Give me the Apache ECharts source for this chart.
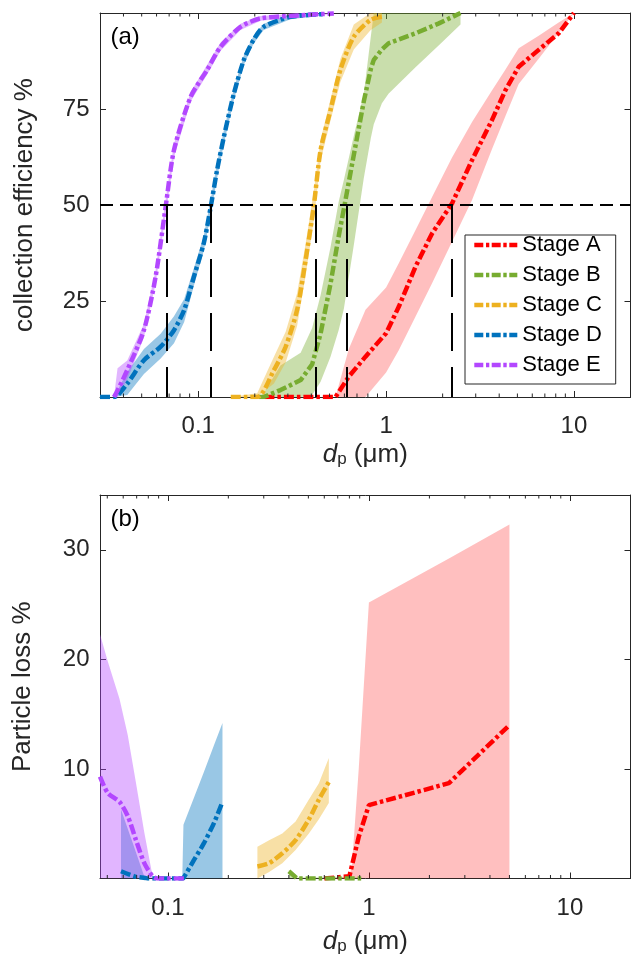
<!DOCTYPE html>
<html>
<head>
<meta charset="utf-8">
<script src="https://cdn.jsdelivr.net/npm/echarts/dist/echarts.min.js"></script>
<style>
  html, body { margin: 0; padding: 0; background: #fff; }
  #chart { width: 632px; height: 957px; }
</style>
</head>
<body>
<div id="chart"></div>
<script>
// ---------------- DATA ----------------
const stageNames = ['Stage A', 'Stage B', 'Stage C', 'Stage D', 'Stage E'];

// Panel (a): collection efficiency (%) vs dp (um)
const effA_x  = [0.225, 0.538, 0.633, 0.777, 1.0, 1.168, 1.433, 1.757, 2.244, 2.868, 3.66, 4.32, 5.08, 6.49, 8.29, 10];
const effA_y  = [0, 0, 5.3, 10.5, 16.6, 23.5, 33.9, 42.6, 50.4, 61.7, 72.1, 79.9, 86, 90.4, 94.7, 100];
const effA_hi = [0, 0, 12.5, 22.7, 28.5, 34.8, 43.4, 52.1, 62.4, 71.6, 79.8, 85.3, 90.8, 94.1, 97.5, 100];
const effA_lo = [0, 0, 0, 0, 6.4, 12.2, 20.9, 29.6, 40.4, 51.3, 64.5, 73.2, 81.5, 88.1, 94.8, 100];

const effB_x  = [0.21, 0.223, 0.274, 0.351, 0.404, 0.448, 0.506, 0.56, 0.596, 0.673, 0.761, 0.83, 0.86, 0.95, 1.03, 1.43, 1.91, 2.49];
const effB_y  = [0, 0, 1.8, 4.4, 8.5, 16.5, 29.5, 42, 49, 63, 77, 85.5, 87.8, 90.5, 92.1, 94.7, 97.3, 100];
const effB_hi = [0, 1, 8.2, 11.5, 18, 26.5, 39, 51, 56.5, 68, 79, 94, 100, 100, 100, 100, 100, 100];
const effB_lo = [0, 0, 0, 0, 0.5, 4, 10.5, 17.5, 23, 39.5, 57, 67.5, 71, 76.5, 79, 85.8, 91.6, 97];

const effC_x  = [0.149, 0.206, 0.253, 0.292, 0.336, 0.373, 0.412, 0.448, 0.506, 0.571, 0.673, 0.826, 0.95];
const effC_y  = [0, 0, 7, 13.1, 22.7, 35.7, 49.6, 64.3, 74.7, 85.2, 93.8, 98.2, 99];
const effC_hi = [0, 1, 10.5, 17, 27, 40, 53.5, 67, 77.5, 88, 97, 100, 100];
const effC_lo = [0, 0, 3.5, 9, 18.5, 31.5, 46, 61.5, 72, 82, 90.5, 95.5, 97.5];

const effD_x  = [0.03, 0.0356, 0.0419, 0.0514, 0.0631, 0.0743, 0.0842, 0.0948, 0.107, 0.1166, 0.126, 0.137, 0.155, 0.175, 0.197, 0.223, 0.31, 0.466];
const effD_y  = [0, 0, 3.5, 9.6, 13.1, 17.4, 22.7, 31.3, 40, 49.6, 59.1, 67.8, 79.1, 87.8, 93, 96.4, 99, 99.7];
const effD_hi = [0, 0, 6.5, 12.5, 16.5, 21, 25.5, 33.5, 42, 51.5, 61, 69.5, 80.5, 89, 94, 97.2, 99.6, 100];
const effD_lo = [0, 0, 0.5, 6, 10, 14, 19.5, 29, 38, 47.5, 57, 66, 77.5, 86.5, 92, 95.6, 98.4, 99.4];

const effE_x  = [0.0356, 0.0372, 0.0419, 0.0514, 0.0593, 0.0671, 0.0743, 0.0912, 0.1116, 0.1315, 0.168, 0.215, 0.38, 0.527];
const effE_y  = [0, 1.7, 7, 17.4, 31.3, 49.6, 64.3, 78.2, 85.2, 91.2, 96.4, 98.6, 99.5, 99.9];
const effE_hi = [0, 7.5, 9.5, 19, 33, 51.5, 66, 79.5, 86.5, 92.3, 97.2, 99.2, 100, 100];
const effE_lo = [0, 0, 4.5, 15.5, 29.5, 47.5, 62.5, 77, 84, 90.2, 95.6, 98, 99, 99.8];

// d50 cut sizes (um) for stages A..E
const d50 = [2.244, 0.616, 0.421, 0.1173, 0.0679];
const d50Level = 50;

// Panel (b): particle loss (%) vs dp (um)
const lossA_x  = [0.6, 0.8, 0.824, 0.89, 1.0, 2.5, 5.0];
const lossA_y  = [0, 0.2, 1.2, 3.8, 6.7, 8.7, 14.0];
const lossA_hi = [0, 0.2, 1.2, 10, 25.2, 29.2, 32.3];
const lossA_lo = [0, 0, 0, 0, 0, 0, 0];

const lossB_x  = [0.40, 0.44, 0.6, 0.92];
const lossB_y  = [0.66, 0, 0, 0];
const lossB_hi = [0.8, 0.1, 0.1, 0.1];
const lossB_lo = [0, 0, 0, 0];

const lossC_x  = [0.279, 0.319, 0.371, 0.432, 0.503, 0.564, 0.632];
const lossC_y  = [1.1, 1.4, 2.3, 3.5, 5.4, 7.2, 8.8];
const lossC_hi = [2.9, 3.5, 4.1, 5.2, 7.2, 8.7, 11.0];
const lossC_lo = [0, 0.6, 1.4, 2.6, 4.1, 5.4, 6.9];

const lossD_x  = [0.0585, 0.0682, 0.077, 0.0793, 0.1, 0.118, 0.1196, 0.135, 0.151, 0.170, 0.187];
const lossD_y  = [0.66, 0.2, 0.05, 0, 0, 0, 0.05, 1.7, 3.2, 5.1, 7.0];
const lossD_hi = [6.3, 2.8, 0, 0, 0, 0, 4.9, 7.4, 9.7, 12.2, 14.2];
const lossD_lo = [0, 0, 0, 0, 0, 0, 0, 0, 0, 0, 0];

const lossE_x  = [0.046, 0.0503, 0.0575, 0.0632, 0.0695, 0.0764, 0.084, 0.089, 0.123];
const lossE_y  = [9.3, 7.8, 7.0, 5.7, 3.5, 1.4, 0.2, 0, 0];
const lossE_hi = [22.3, 19.8, 16.4, 13.1, 8.7, 4.2, 0.2, 0, 0];
const lossE_lo = [0, 0, 0, 0, 0, 0, 0, 0, 0];

// Axis ticks / labels
const xTickVals = [0.1, 1, 10];
const xTickLabels = ['0.1', '1', '10'];
const minorTicksTop = [0.04, 0.05, 0.06, 0.07, 0.08, 0.09, 0.2, 0.3, 0.4, 0.5, 0.6, 0.7, 0.8, 0.9, 2, 3, 4, 5, 6, 7, 8, 9];
const minorTicksBottom = [0.05, 0.06, 0.07, 0.08, 0.09, 0.2, 0.3, 0.4, 0.5, 0.6, 0.7, 0.8, 0.9, 2, 3, 4, 5, 6, 7, 8, 9];
const yTopLabels = [25, 50, 75];
const yBottomLabels = [10, 20, 30];

// ---------------- STYLE ----------------
const FONT = "'Liberation Sans', Arial, Helvetica, sans-serif";
const AX = '#262626';
const lineColors = ['#FF0000', '#77AC30', '#EDB120', '#0072BD', '#B347FF'];
const bandColors = ['rgba(255,0,0,0.25)', 'rgba(119,172,48,0.4)', 'rgba(237,177,32,0.4)',
                    'rgba(0,114,189,0.4)', 'rgba(179,71,255,0.4)'];
const DASHDOT = [10, 3, 3.5, 3];
// dash-dot legend glyph (43 x 4.5 box)
const LEGEND_ICON = 'path://M0,0H9V4.5H0Z M11.7,0H15V4.5H11.7Z M17.4,0H26.4V4.5H17.4Z M29,0H32.4V4.5H29Z M35,0H43V4.5H35Z';

function zip(xs, ys) { return xs.map((x, i) => [x, ys[i]]); }

function bandSeries(xs, lo, hi, color, xi, yi) {
  return {
    type: 'custom', xAxisIndex: xi, yAxisIndex: yi, silent: true, clip: true, z: 2,
    data: [[xs[0], lo[0]]],
    encode: { x: 0, y: 1 },
    renderItem: function (params, api) {
      const pts = [];
      for (let i = 0; i < xs.length; i++) pts.push(api.coord([xs[i], hi[i]]));
      for (let i = xs.length - 1; i >= 0; i--) pts.push(api.coord([xs[i], lo[i]]));
      return { type: 'polygon', shape: { points: pts }, style: { fill: color, stroke: null } };
    }
  };
}

function lineSeries(name, xs, ys, color, xi, yi, smooth) {
  return {
    name: name, type: 'line', xAxisIndex: xi, yAxisIndex: yi, z: 2,
    data: zip(xs, ys), symbol: 'none', showSymbol: false, smooth: smooth || false,
    itemStyle: { color: color },
    lineStyle: { color: color, width: 4.5, type: DASHDOT, cap: 'butt' }
  };
}

function minorTickSeries(vals, xi, yi) {
  return {
    type: 'custom', xAxisIndex: xi, yAxisIndex: yi, silent: true, z: 6,
    data: vals.map(v => [v, 0]),
    encode: { x: 0, y: 1 },
    renderItem: function (params, api) {
      const x = api.coord([api.value(0), api.value(1)])[0];
      const cs = params.coordSys;
      const yb = cs.y + cs.height, yt = cs.y;
      return {
        type: 'group', children: [
          { type: 'line', shape: { x1: x, y1: yb, x2: x, y2: yb - 3.5 }, style: { stroke: AX, lineWidth: 1 } },
          { type: 'line', shape: { x1: x, y1: yt, x2: x, y2: yt + 3.5 }, style: { stroke: AX, lineWidth: 1 } }
        ]
      };
    }
  };
}

function xLabelFmt(v) {
  const i = xTickVals.findIndex(t => Math.abs(Math.log10(v) - Math.log10(t)) < 1e-6);
  return i >= 0 ? xTickLabels[i] : '';
}
function yFmt(list) {
  return function (v) { return list.some(t => Math.abs(t - v) < 1e-9) ? String(v) : ''; };
}

const dpName = '{i|d}{s|p} (μm)';
const dpRich = {
  i: { fontStyle: 'italic', fontSize: 26, fontFamily: FONT, color: AX },
  s: { fontSize: 17, fontFamily: FONT, color: AX, verticalAlign: 'bottom' }
};

function xAxisMain(grid, min, max, nameGap, labelMargin) {
  return {
    gridIndex: grid, type: 'log', logBase: 10, min: min, max: max, position: 'bottom',
    axisLine: { show: true, onZero: false, lineStyle: { color: AX, width: 1 } },
    axisTick: { show: true, inside: true, length: 6, lineStyle: { color: AX } },
    minorTick: { show: false }, splitLine: { show: false }, minorSplitLine: { show: false },
    axisLabel: { show: true, margin: labelMargin, fontSize: 24, fontFamily: FONT, color: AX, formatter: xLabelFmt },
    name: dpName, nameLocation: 'middle', nameGap: nameGap,
    nameTextStyle: { fontSize: 26, fontFamily: FONT, color: AX, rich: dpRich }
  };
}
function xAxisTop(grid, min, max) {
  return {
    gridIndex: grid, type: 'log', logBase: 10, min: min, max: max, position: 'top',
    axisLine: { show: true, onZero: false, lineStyle: { color: AX, width: 1 } },
    axisTick: { show: true, inside: true, length: 6, lineStyle: { color: AX } },
    splitLine: { show: false }, axisLabel: { show: false }
  };
}
function yAxisMain(grid, min, max, interval, labels, name, nameGap) {
  return {
    gridIndex: grid, type: 'value', min: min, max: max, interval: interval, position: 'left',
    axisLine: { show: true, onZero: false, lineStyle: { color: AX, width: 1 } },
    axisTick: { show: true, inside: true, length: 6, lineStyle: { color: AX } },
    splitLine: { show: false },
    axisLabel: { show: true, margin: 10.5, fontSize: 24, fontFamily: FONT, color: AX, formatter: yFmt(labels) },
    name: name, nameLocation: 'middle', nameGap: nameGap, nameRotate: 90,
    nameTextStyle: { fontSize: 26, fontFamily: FONT, color: AX }
  };
}
function yAxisRight(grid, min, max, interval) {
  return {
    gridIndex: grid, type: 'value', min: min, max: max, interval: interval, position: 'right',
    axisLine: { show: true, onZero: false, lineStyle: { color: AX, width: 1 } },
    axisTick: { show: true, inside: true, length: 6, lineStyle: { color: AX } },
    splitLine: { show: false }, axisLabel: { show: false }
  };
}

const topSets = [
  [effA_x, effA_y, effA_lo, effA_hi],
  [effB_x, effB_y, effB_lo, effB_hi],
  [effC_x, effC_y, effC_lo, effC_hi],
  [effD_x, effD_y, effD_lo, effD_hi],
  [effE_x, effE_y, effE_lo, effE_hi]
];
const botSets = [
  [lossA_x, lossA_y, lossA_lo, lossA_hi],
  [lossB_x, lossB_y, lossB_lo, lossB_hi],
  [lossC_x, lossC_y, lossC_lo, lossC_hi],
  [lossD_x, lossD_y, lossD_lo, lossD_hi],
  [lossE_x, lossE_y, lossE_lo, lossE_hi]
];

const series = [];
topSets.forEach((s, k) => {
  series.push(bandSeries(s[0], s[2], s[3], bandColors[k], 0, 0));
  series.push(lineSeries(stageNames[k], s[0], s[1], lineColors[k], 0, 0, k >= 2 ? 0.25 : false));
});
botSets.forEach((s, k) => {
  series.push(bandSeries(s[0], s[2], s[3], bandColors[k], 2, 2));
  series.push(lineSeries(stageNames[k], s[0], s[1], lineColors[k], 2, 2, k >= 2 ? 0.25 : false));
});

// d50 reference lines
const markData = [
  { yAxis: d50Level, lineStyle: { type: [13, 7] } }
];
d50.forEach(v => {
  markData.push([{ coord: [v, d50Level], lineStyle: { type: [38, 16] } }, { coord: [v, 0] }]);
});
series.push({
  type: 'line', xAxisIndex: 0, yAxisIndex: 0, data: [], z: 5, silent: true,
  markLine: {
    symbol: ['none', 'none'], silent: true, animation: false,
    label: { show: false },
    lineStyle: { color: '#000', width: 2 },
    emphasis: { disabled: true },
    data: markData
  }
});
series.push(minorTickSeries(minorTicksTop, 0, 0));
series.push(minorTickSeries(minorTicksBottom, 2, 2));

const option = {
  animation: false,
  backgroundColor: '#fff',
  textStyle: { fontFamily: FONT },
  grid: [
    { left: 100, top: 13, width: 530.5, height: 384, outerBoundsMode: 'none', containLabel: false },
    { left: 100, top: 495, width: 530.5, height: 383.5, outerBoundsMode: 'none', containLabel: false }
  ],
  xAxis: [
    xAxisMain(0, 0.03, 20, 45, 17.5),
    xAxisTop(0, 0.03, 20),
    xAxisMain(1, 0.046, 20, 50.5, 18),
    xAxisTop(1, 0.046, 20)
  ],
  yAxis: [
    yAxisMain(0, 0, 100, 25, yTopLabels, 'collection efficiency %', 62),
    yAxisRight(0, 0, 100, 25),
    yAxisMain(1, 0, 35, 10, yBottomLabels, 'Particle loss %', 64),
    yAxisRight(1, 0, 35, 10)
  ],
  legend: {
    data: stageNames, orient: 'vertical', left: 474.3, top: 234, padding: 0,
    icon: LEGEND_ICON,
    itemWidth: 43, itemHeight: 4.5, itemGap: 8, selectedMode: false, z: 20,
    textStyle: { fontSize: 22, fontFamily: FONT, color: '#000', lineHeight: 22 }
  },
  graphic: [
    { type: 'rect', z: 15, silent: true, shape: { x: 465, y: 235, width: 150.7, height: 149 },
      style: { fill: '#fff', stroke: AX, lineWidth: 1 } },
    { type: 'text', z: 30, left: 110.5, top: 25, silent: true,
      style: { text: '(a)', font: "24px 'Liberation Sans', Arial, sans-serif", fill: '#000' } },
    { type: 'text', z: 30, left: 110.5, top: 507, silent: true,
      style: { text: '(b)', font: "24px 'Liberation Sans', Arial, sans-serif", fill: '#000' } }
  ],
  series: series
};

const chart = echarts.init(document.getElementById('chart'), null, { renderer: 'canvas' });
chart.setOption(option);
</script>
</body>
</html>
